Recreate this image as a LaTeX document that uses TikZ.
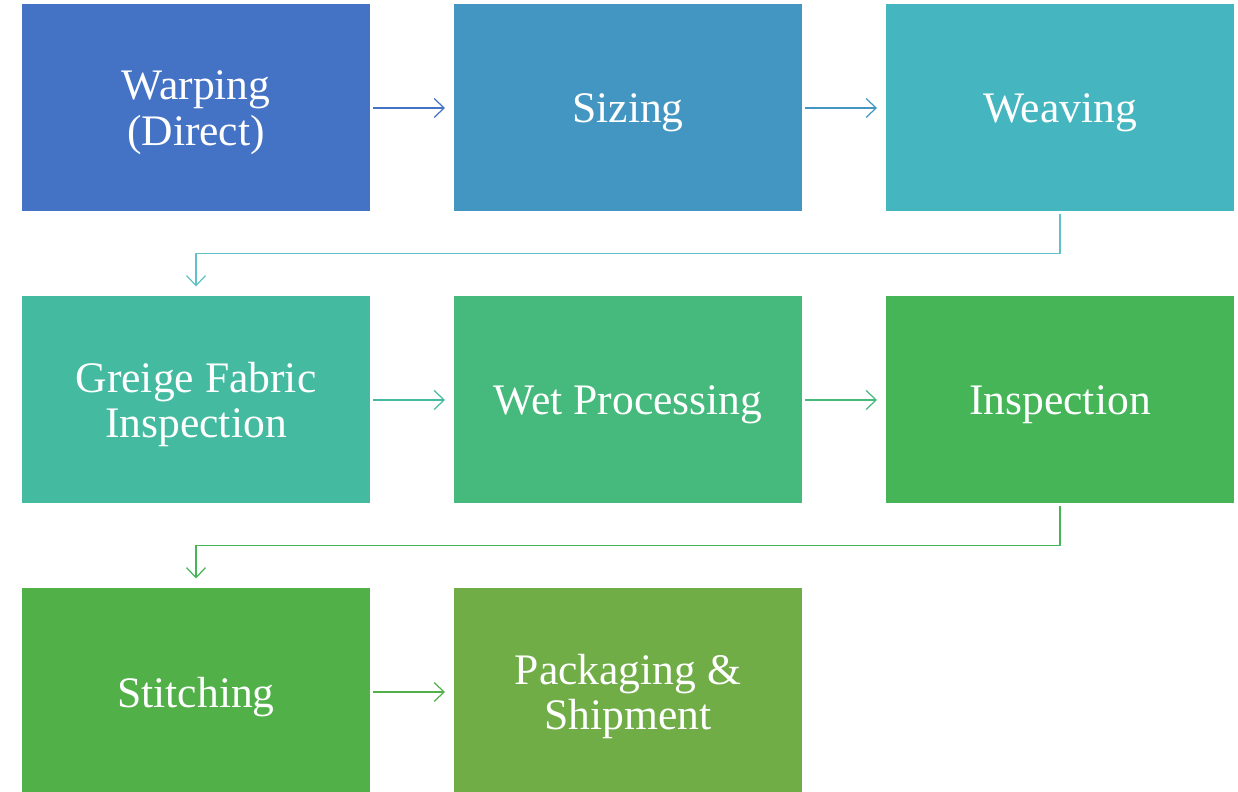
\documentclass[tikz,border=0pt]{standalone}
\usepackage{fontspec}
\setmainfont{Liberation Serif}
\usetikzlibrary{positioning}
\usetikzlibrary{arrows.meta}
\definecolor{warpblue}{HTML}{4472C4}
\definecolor{sizeblue}{HTML}{4396C1}
\definecolor{weaveteal}{HTML}{45B6BF}
\definecolor{greigeteal}{HTML}{44BBA1}
\definecolor{wetgreen}{HTML}{46BA7C}
\definecolor{inspgreen}{HTML}{45B558}
\definecolor{stitchgreen}{HTML}{51B048}
\definecolor{packgreen}{HTML}{70AD47}
\tikzset{node distance=0.85cm and 0.84cm, % Gap between the boxes
      process/.style={ % Sets the properties for each box
      rectangle,
      minimum width=3.48cm,
      minimum height=2.07cm,
      inner sep=0pt,
      outer sep=0pt,
      text depth=0pt,
      text=white,
      align=center,
      font=\fontsize{12.4}{12.9}\selectfont},
      flow/.style={ % Sets the properties for each connector
      draw,
      -{Straight Barb[length=1mm,width=1.9mm]},
      line width=0.35pt}}

\begin{document}
\begin{tikzpicture}
      \useasboundingbox (0,0) rectangle (12.38,-7.92);
      \node[process, fill=warpblue] (warp) at (1.96,-1.08) {Warping\\(Direct)};
      \node[process, fill=sizeblue, right=of warp] (size) {Sizing};
      \node[process, fill=weaveteal, right=of size] (weave) {Weaving};
      \node[process, fill=greigeteal, below=of warp] (greige) {Greige Fabric\\Inspection};
      \node[process, fill=wetgreen, right=of greige] (wet) {Wet Processing};
      \node[process, fill=inspgreen, right=of wet] (insp) {Inspection};
      \node[process, fill=stitchgreen, below=of greige] (stitch) {Stitching};
      \node[process, fill=packgreen, right=of stitch] (pack) {Packaging \&\\Shipment};
      \draw[flow, warpblue] ([xshift=0.03cm]warp.east) -- ([xshift=-0.09cm]size.west);
      \draw[flow, sizeblue] ([xshift=0.03cm]size.east) -- ([xshift=-0.09cm]weave.west);
      \draw[flow, weaveteal!85!white] ([yshift=-0.03cm]weave.south) -- ++(0,-0.39) -| ([yshift=0.1cm]greige.north);
      \draw[flow, greigeteal] ([xshift=0.03cm]greige.east) -- ([xshift=-0.09cm]wet.west);
      \draw[flow, wetgreen] ([xshift=0.03cm]wet.east) -- ([xshift=-0.09cm]insp.west);
      \draw[flow, inspgreen] ([yshift=-0.03cm]insp.south) -- ++(0,-0.39) -| ([yshift=0.1cm]stitch.north);
      \draw[flow, stitchgreen] ([xshift=0.03cm]stitch.east) -- ([xshift=-0.09cm]pack.west);
\end{tikzpicture}
\end{document}
